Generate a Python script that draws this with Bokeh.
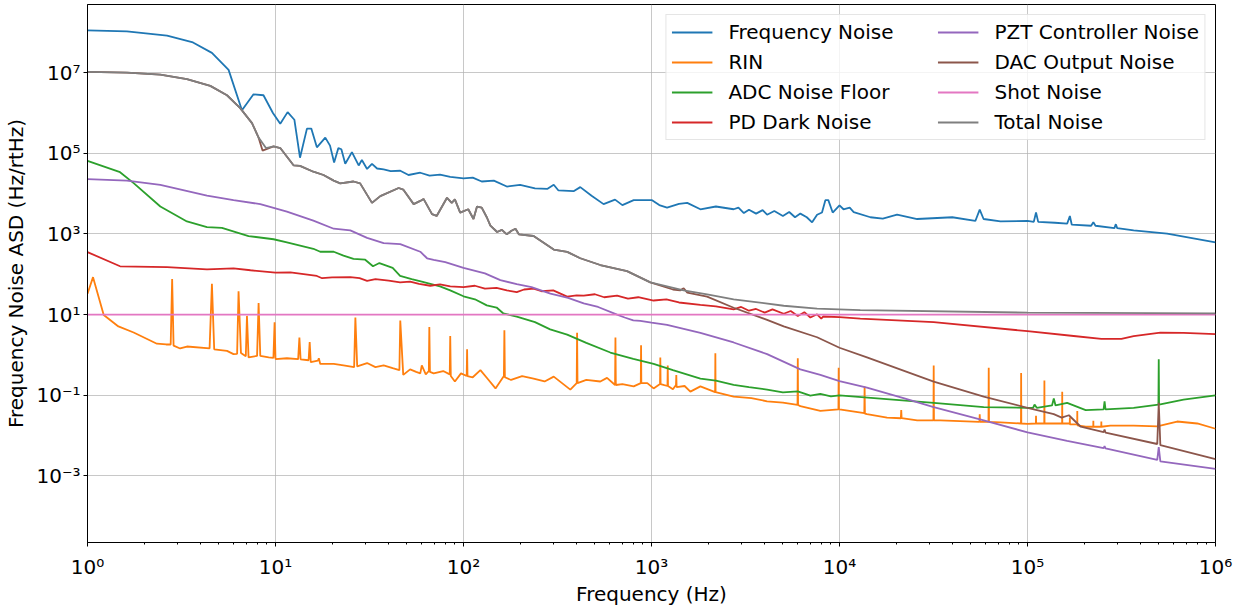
from bokeh.plotting import figure
from bokeh.models import (Legend, LegendItem, FixedTicker, Range1d,
                          CustomJSTickFormatter)
from bokeh.embed import file_html
from bokeh.resources import INLINE

# ---------------- data (frequency in Hz, ASD in Hz/rtHz) ----------------
frequency_noise = [
    (1, 1.12e8), (1.62, 1.05e8), (2.65, 8.3e7), (3.64, 5.6e7), (4.59, 3.1e7),
    (5.63, 1.17e7), (6.63, 1.17e6), (7.64, 2.9e6), (8.63, 2.75e6), (9.69, 1.0e6),
    (10.6, 5.4e5), (11.6, 1.05e6), (12.6, 6.8e5), (13.5, 7.8e4), (14.7, 4.1e5),
    (15.5, 4.1e5), (16.6, 1.41e5), (18.4, 2.45e5), (19.5, 1.55e5), (20.5, 5.9e4),
    (21.6, 1.35e5), (22.4, 1.26e5), (23.5, 5.5e4), (25.5, 1.07e5), (27.7, 5.0e4),
    (28.8, 6.8e4), (30.7, 4.1e4), (32.6, 5.5e4), (34.7, 4.2e4), (37.6, 4.0e4),
    (41, 3.6e4), (46.1, 3.7e4), (51, 2.9e4), (58.9, 3.3e4), (66, 2.8e4),
    (75, 2.95e4), (85, 2.6e4), (100, 2.4e4), (112, 2.5e4), (125, 2.0e4),
    (145, 2.1e4), (170, 1.5e4), (200, 1.66e4), (240, 1.35e4), (280, 1.32e4),
    (302, 1.66e4), (320, 1.2e4), (385, 1.15e4), (418, 1.45e4), (480, 8.9e3),
    (556, 5.5e3), (640, 7.1e3), (700, 5.2e3), (804, 6.9e3), (1007, 6.9e3),
    (1100, 5.2e3), (1210, 4.5e3), (1400, 5.6e3), (1549, 5.9e3), (1820, 4.1e3),
    (2200, 4.8e3), (2735, 4.1e3), (2900, 4.5e3), (3100, 3.3e3), (3300, 4.0e3),
    (3600, 3.2e3), (3900, 3.9e3), (4120, 3.0e3), (4500, 3.7e3), (5000, 2.8e3),
    (5400, 3.5e3), (5800, 2.6e3), (6190, 3.2e3), (6700, 2.6e3), (7150, 1.95e3),
    (7600, 3.0e3), (8070, 3.4e3), (8410, 6.9e3), (8720, 6.9e3), (9200, 3.4e3),
    (10000, 5.1e3), (10500, 4.1e3), (11330, 4.5e3), (11900, 3.5e3), (14600, 2.6e3),
    (17000, 2.4e3), (20240, 3.0e3), (25900, 2.35e3), (39800, 2.6e3), (52800, 2.1e3),
    (55700, 4.0e3), (58400, 2.35e3), (71800, 2.05e3), (100000, 2.1e3), (108000, 2.0e3),
    (111000, 3.4e3), (114000, 2.0e3), (140000, 1.9e3), (162500, 1.8e3), (168000, 2.8e3),
    (172000, 1.7e3), (218000, 1.6e3), (224000, 1.95e3), (230000, 1.6e3), (290000, 1.4e3),
    (295000, 1.75e3), (300000, 1.4e3), (367000, 1.23e3), (553000, 1.02e3), (1000000, 6.2e2),
]

rin_noise = [
    (1, 33), (1.07, 85), (1.22, 9.8), (1.46, 5.1), (1.76, 3.6), (2.34, 1.9),
    (2.62, 1.82), (2.77, 1.82), (2.82, 76), (2.87, 1.7), (3.11, 1.45), (3.38, 1.62),
    (4.46, 1.45), (4.59, 58), (4.72, 1.38), (5.52, 1.26), (5.98, 1.05), (6.25, 1.07),
    (6.36, 38), (6.55, 1.12), (6.95, 0.93), (7.05, 9.3), (7.19, 0.87), (7.98, 0.95),
    (8.13, 19.5), (8.3, 0.95), (9.2, 0.87), (9.75, 0.85), (9.89, 6.5), (10.0, 0.79),
    (11.5, 0.83), (13.2, 0.79), (13.4, 2.7), (13.6, 0.78), (15.0, 0.74), (15.2, 2.1),
    (15.4, 0.66), (16.8, 0.72), (17.0, 0.83), (17.3, 0.60), (20.4, 0.60), (23, 0.55),
    (26.2, 0.50), (26.6, 8.5), (27.2, 0.52), (30.7, 0.63), (34, 0.50), (37.6, 0.55),
    (42, 0.47), (45.6, 0.42), (46.1, 7.1), (47.8, 0.32), (52, 0.44), (56, 0.38),
    (58.9, 0.35), (60, 0.55), (63, 0.33), (65.4, 0.40), (65.8, 4.9), (66.3, 0.38),
    (69.4, 0.35), (78, 0.40), (84.5, 0.33), (85, 2.95), (85.6, 0.30), (90, 0.22),
    (97, 0.35), (104, 0.30), (104.5, 1.38), (105, 0.30), (112, 0.28), (123, 0.42),
    (135, 0.25), (148, 0.148), (164, 0.30), (165, 4.1), (166, 0.28), (179, 0.24),
    (205, 0.30), (236, 0.26), (270, 0.22), (302, 0.29), (370, 0.138), (400, 0.20),
    (402, 3.55), (404, 0.20), (450, 0.24), (534, 0.22), (580, 0.27), (640, 0.18),
    (643, 2.7), (646, 0.18), (700, 0.19), (804, 0.166), (877, 0.20), (880, 1.74),
    (883, 0.20), (950, 0.20), (1026, 0.148), (1110, 0.19), (1114, 0.87), (1118, 0.19),
    (1170, 0.178), (1216, 0.17), (1220, 0.55), (1224, 0.17), (1300, 0.141), (1350, 0.18),
    (1355, 0.32), (1360, 0.16), (1500, 0.17), (1610, 0.123), (1820, 0.166), (2180, 0.12),
    (2186, 1.1), (2192, 0.12), (2735, 0.093), (3400, 0.085), (4120, 0.071), (5000, 0.066),
    (5980, 0.058), (6000, 0.83), (6020, 0.058), (6190, 0.054), (7910, 0.041), (9870, 0.045),
    (9900, 0.48), (9930, 0.045), (10000, 0.045), (13550, 0.036), (13600, 0.166),
    (13650, 0.035), (14000, 0.034), (17900, 0.028), (21200, 0.027), (21300, 0.043),
    (21400, 0.027), (25900, 0.024), (31600, 0.024), (31700, 0.55), (31800, 0.024),
    (34400, 0.024), (55500, 0.022), (55700, 0.034), (55900, 0.022), (62000, 0.022),
    (62200, 0.48), (62400, 0.022), (71800, 0.0214), (92300, 0.020), (92500, 0.355),
    (92700, 0.020), (100000, 0.0195), (110800, 0.020), (111000, 0.031), (111200, 0.020),
    (122800, 0.020), (123000, 0.234), (123200, 0.020), (152800, 0.020), (153000, 0.123),
    (153200, 0.020), (167800, 0.020), (168000, 0.028), (168200, 0.019), (183800, 0.019),
    (184000, 0.041), (184200, 0.018), (204000, 0.0166), (223800, 0.0166), (224000, 0.0234),
    (224200, 0.0166), (246800, 0.0166), (247000, 0.0224), (247200, 0.0166), (276000, 0.0178),
    (367000, 0.0178), (490000, 0.017), (625000, 0.0224), (800000, 0.0200), (1000000, 0.0148),
]

adc_noise_floor = [
    (1, 6.5e4), (1.49, 3.4e4), (1.76, 1.82e4), (2.44, 4.8e3), (3.38, 2.04e3),
    (4.32, 1.48e3), (5.19, 1.41e3), (7.19, 890), (9.77, 740), (11.5, 620),
    (15.9, 430), (17.3, 363), (20.4, 363), (23, 290), (26, 240), (30, 230),
    (33, 158), (35.7, 190), (42, 145), (46, 91), (53, 76), (60, 66),
    (66.6, 58), (75, 50), (85, 40), (100, 28.5), (115, 24), (133, 17),
    (150, 15), (163, 10.7), (192, 8.9), (240, 6.5), (289, 4.3), (356, 3.2),
    (450, 2.0), (604, 1.15), (800, 0.8), (1026, 0.60), (1300, 0.42), (1820, 0.26),
    (2200, 0.23), (2735, 0.182), (3300, 0.16), (4120, 0.138), (5000, 0.118),
    (6000, 0.125), (7000, 0.098), (7910, 0.108), (9000, 0.094), (10000, 0.1),
    (31700, 0.065), (58500, 0.051), (100000, 0.049), (107000, 0.049), (109000, 0.059),
    (112000, 0.049), (135000, 0.056), (138000, 0.083), (141000, 0.056), (162500, 0.065),
    (204000, 0.043), (254000, 0.045), (257000, 0.071), (260000, 0.045), (367000, 0.049),
    (497000, 0.059), (499000, 0.78), (501000, 0.059), (676000, 0.078), (1000000, 0.1),
]

pd_dark_noise = [
    (1, 355), (1.49, 158), (2.65, 151), (4.32, 132), (5.98, 141), (7.36, 126),
    (10, 110), (12, 112), (16.6, 91), (17.7, 80), (20, 84), (25, 85), (28, 80),
    (30.7, 69), (34, 76), (40, 70), (46, 63), (52, 66), (58, 58), (66.6, 52),
    (75, 56), (85, 50), (100, 48), (115, 52), (130, 44), (150, 46), (170, 40),
    (192, 36), (210, 42), (236, 44), (260, 38), (300, 40), (356, 28), (400, 30),
    (436, 29.5), (500, 32), (560, 27), (656, 29.5), (750, 25), (850, 27),
    (1026, 22.4), (1200, 24), (1400, 20), (1820, 17.5), (2200, 16), (2735, 13.5),
    (3000, 15.5), (3300, 12.5), (3600, 13.8), (4000, 11.2), (4400, 13.5), (5050, 10.5),
    (5500, 12.3), (6000, 9.3), (6500, 11.5), (7000, 8.5), (7600, 10.2), (8000, 8.0),
    (8200, 9.0), (10000, 8.7), (12900, 8.0), (31700, 6.5), (100000, 3.9),
    (176000, 2.95), (247000, 2.5), (316000, 2.5), (367000, 2.95), (509000, 3.6),
    (676000, 3.55), (1000000, 3.3),
]

pzt_controller_noise = [
    (1, 2.3e4), (1.62, 2.1e4), (2.44, 1.66e4), (4.32, 8.9e3), (5.98, 6.9e3),
    (8.3, 5.5e3), (11.5, 3.6e3), (15.9, 2.14e3), (20.4, 1.35e3), (25, 1.23e3),
    (30.7, 800), (37.6, 590), (46.1, 560), (58.9, 363), (64, 250), (69.4, 229),
    (80, 200), (100, 145), (130, 105), (157, 72), (192, 57), (230, 48), (290, 33),
    (360, 26), (436, 19), (520, 15.5), (656, 10.0), (720, 8.5), (800, 7.2),
    (872, 7.0), (1000, 6.3), (1210, 5.6), (1820, 3.55), (2735, 2.04), (4120, 1.05),
    (6190, 0.44), (7910, 0.32), (10000, 0.224), (14000, 0.155), (21900, 0.085),
    (31700, 0.051), (58500, 0.024), (100000, 0.012), (162500, 0.0074),
    (254000, 0.0049), (257000, 0.0055), (260000, 0.0048), (490000, 0.0025),
    (499000, 0.0052), (509000, 0.0023), (1000000, 0.0015),
]

dac_output_noise = [
    (1, 1.05e7), (1.62, 1.0e7), (2.44, 8.9e6), (3.38, 6.9e6), (4.5, 4.7e6),
    (5.52, 2.75e6), (6.49, 1.32e6), (7.5, 5.6e5), (8.13, 2.45e5), (8.53, 1.17e5),
    (9.77, 1.48e5), (10.6, 1.35e5), (12.5, 5.0e4), (13.5, 4.9e4), (15.9, 3.5e4),
    (18, 2.9e4), (20.4, 2.1e4), (22.1, 1.8e4), (26, 2.0e4), (28.2, 1.8e4),
    (32.6, 5.9e3), (36.1, 8.7e3), (45.2, 1.38e4), (47.8, 1.26e4), (54.3, 5.5e3),
    (58.9, 6.6e3), (61.3, 7.4e3), (68, 3.1e3), (72, 2.8e3), (81.7, 7.9e3),
    (86.6, 5.9e3), (90, 7.2e3), (96, 3.4e3), (106, 4.1e3), (113, 2.35e3),
    (118, 4.8e3), (125, 4.5e3), (133, 2.6e3), (139, 1.62e3), (151, 1.12e3),
    (160, 1.26e3), (170, 980), (180, 1.2e3), (189, 1.35e3), (197, 980),
    (236, 890), (302, 410), (356, 360), (418, 250), (534, 170), (741, 120),
    (986, 63), (1300, 42), (1420, 40), (1483, 45), (1550, 35), (1976, 28),
    (2735, 14.8), (4120, 7.4), (5050, 5.1), (7600, 2.75), (10000, 1.51),
    (14000, 0.87), (31700, 0.219), (58500, 0.093), (100000, 0.049), (138000, 0.034),
    (152000, 0.028), (166000, 0.032), (192000, 0.0166), (254000, 0.0122),
    (257000, 0.0141), (260000, 0.0119), (490000, 0.0062), (499000, 0.065),
    (509000, 0.0058), (1000000, 0.0026),
]

shot_noise = [(1, 10), (1000000, 10)]

total_noise = [
    (1, 1.05e7), (1.62, 1.0e7), (2.44, 8.9e6), (3.38, 6.9e6), (4.5, 4.7e6),
    (5.52, 2.75e6), (6.49, 1.32e6), (7.5, 5.6e5), (8.13, 2.45e5), (8.9, 1.35e5),
    (9.77, 1.48e5), (10.6, 1.35e5), (12.5, 5.0e4), (13.5, 4.9e4), (15.9, 3.5e4),
    (18, 2.9e4), (20.4, 2.1e4), (22.1, 1.8e4), (26, 2.0e4), (28.2, 1.8e4),
    (32.6, 5.9e3), (36.1, 8.7e3), (45.2, 1.38e4), (47.8, 1.26e4), (54.3, 5.5e3),
    (58.9, 6.6e3), (61.3, 7.4e3), (68, 3.1e3), (72, 2.8e3), (81.7, 7.9e3),
    (86.6, 5.9e3), (90, 7.2e3), (96, 3.4e3), (106, 4.1e3), (113, 2.35e3),
    (118, 4.8e3), (125, 4.5e3), (133, 2.6e3), (139, 1.62e3), (151, 1.12e3),
    (160, 1.26e3), (170, 980), (180, 1.2e3), (189, 1.35e3), (197, 980),
    (236, 890), (302, 410), (356, 360), (418, 250), (534, 170), (741, 120),
    (986, 63), (1483, 40), (1976, 32), (2735, 24), (5050, 16.6), (7600, 14.1),
    (12900, 12.9), (100000, 11.2), (1000000, 10.7),
]

series_names = ["Frequency Noise", "RIN", "ADC Noise Floor", "PD Dark Noise",
                "PZT Controller Noise", "DAC Output Noise", "Shot Noise", "Total Noise"]
series_data = [frequency_noise, rin_noise, adc_noise_floor, pd_dark_noise,
               pzt_controller_noise, dac_output_noise, shot_noise, total_noise]
series_colors = ["#1f77b4", "#ff7f0e", "#2ca02c", "#d62728",
                 "#9467bd", "#8c564b", "#e377c2", "#7f7f7f"]

x_major = [1, 10, 100, 1e3, 1e4, 1e5, 1e6]
x_minor = [m * d for d in [1, 10, 100, 1e3, 1e4, 1e5] for m in range(2, 10)]
y_major = [1e-3, 1e-1, 1e1, 1e3, 1e5, 1e7]

FONT = "DejaVu Sans"
FS = "20px"

p = figure(width=1247, height=608, x_axis_type="log", y_axis_type="log",
           x_range=Range1d(1, 1e6), y_range=Range1d(10 ** -4.65, 10 ** 8.69),
           output_backend="svg", toolbar_location=None,
           min_border_left=87, min_border_right=32, min_border_top=4,
           min_border_bottom=53)
p.background_fill_color = "white"
p.border_fill_color = "white"
p.outline_line_color = "black"
p.outline_line_width = 1

renderers = []
for name, data, color in zip(series_names, series_data, series_colors):
    xs = [d[0] for d in data]
    ys = [d[1] for d in data]
    r = p.line(xs, ys, line_color=color, line_width=1.8)
    renderers.append(r)

sup_js = """
const e = Math.round(Math.log10(tick));
const sup = {"-":"\u207b","0":"\u2070","1":"\u00b9","2":"\u00b2","3":"\u00b3",
             "4":"\u2074","5":"\u2075","6":"\u2076","7":"\u2077","8":"\u2078","9":"\u2079"};
return "10" + String(e).split("").map(c => sup[c]).join("");
"""

p.xaxis.ticker = FixedTicker(ticks=x_major, minor_ticks=x_minor)
p.yaxis.ticker = FixedTicker(ticks=y_major, minor_ticks=[])
p.xaxis.formatter = CustomJSTickFormatter(code=sup_js)
p.yaxis.formatter = CustomJSTickFormatter(code=sup_js)

for ax in (p.xaxis[0], p.yaxis[0]):
    ax.major_label_text_font = FONT
    ax.major_label_text_font_size = FS
    ax.major_label_text_color = "black"
    ax.axis_label_text_font = FONT
    ax.axis_label_text_font_size = FS
    ax.axis_label_text_font_style = "normal"
    ax.axis_label_text_color = "black"
    ax.axis_line_color = "black"
    ax.major_tick_line_color = "black"
    ax.minor_tick_line_color = "black"
    ax.major_tick_out = 4
    ax.major_tick_in = 0
    ax.minor_tick_out = 2
    ax.minor_tick_in = 0
    ax.major_label_standoff = 3
    ax.axis_label_standoff = 5

p.xaxis.major_label_standoff = 8
p.xaxis.axis_label_standoff = 0

p.xaxis.axis_label = "Frequency (Hz)"
p.yaxis.axis_label = "Frequency Noise ASD (Hz/rtHz)"

p.xgrid.ticker = FixedTicker(ticks=x_major)
p.ygrid.ticker = FixedTicker(ticks=y_major)
for g in (p.xgrid[0], p.ygrid[0]):
    g.grid_line_color = "#b0b0b0"
    g.grid_line_alpha = 0.7
    g.grid_line_width = 1

items = [LegendItem(label=n, renderers=[r]) for n, r in zip(series_names, renderers)]
legend = Legend(items=items, ncols=2, location="top_right", margin=10,
                padding=5, spacing=6, glyph_width=41, glyph_height=20,
                label_standoff=16, label_width=203, label_text_font=FONT,
                label_text_font_size=FS, label_text_color="black",
                border_line_color="#cccccc", border_line_width=1,
                background_fill_color="white", background_fill_alpha=0.8)
p.add_layout(legend)

open("out.html", "w").write(file_html(p, INLINE))
